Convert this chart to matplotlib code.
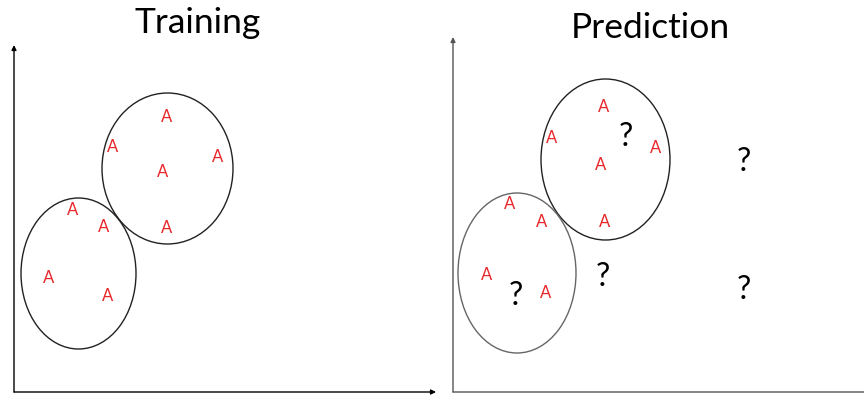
import matplotlib
matplotlib.use("Agg")
import matplotlib.pyplot as plt
from matplotlib.patches import Ellipse

# Diagram coordinates (pixel-like units of the reference image)
titles = ["Training", "Prediction"]
title_x = [198, 650]
title_y = [23, 28]

# Training panel points ("A")
train_ax = [167, 113, 218, 163, 167, 73, 104, 49, 108]
train_ay = [117, 147, 157, 172, 228, 210, 227, 278, 296]
train_ellipses = [(167.5, 168.5, 131, 151), (78.5, 273.5, 115, 151)]

# Prediction panel points ("A") and unknowns ("?")
pred_ax = [604, 552, 656, 601, 605, 510, 542, 487, 546]
pred_ay = [107, 138, 148, 165, 222, 204, 222, 275, 293]
pred_qx = [626, 744, 603, 744, 516]
pred_qy = [137, 162, 277, 290, 296]
pred_ellipses = [(605.5, 159.5, 129, 161), (517, 273, 118, 160)]

fig = plt.figure(figsize=(8.64, 3.98), dpi=100)
ax = fig.add_axes([0, 0, 1, 1])
ax.set_xlim(0, 864)
ax.set_ylim(398, 0)
ax.axis("off")

font = ["Lato", "DejaVu Sans"]
red = "#e8262a"

# Axes arrows
def arrow(x0, y0, x1, y1, color):
    ax.annotate("", xy=(x1, y1), xytext=(x0, y0), annotation_clip=False,
                arrowprops=dict(arrowstyle="-|>", lw=1.0, color=color,
                                mutation_scale=7, shrinkA=0, shrinkB=0))

arrow(14, 392, 14, 45, "black")
arrow(14, 392, 436, 392, "black")
arrow(453, 392, 453, 37, "#555555")
arrow(453, 392, 875, 392, "#555555")

for t, x, y in zip(titles, title_x, title_y):
    ax.text(x, y, t, fontsize=25.5, family=font, ha="center", va="center", color="black")

for (cx, cy, w, h) in train_ellipses:
    ax.add_patch(Ellipse((cx, cy), w, h, fill=False, edgecolor="#222222", lw=1.0))
ax.add_patch(Ellipse(pred_ellipses[0][:2], pred_ellipses[0][2], pred_ellipses[0][3],
                     fill=False, edgecolor="#222222", lw=1.0))
ax.add_patch(Ellipse(pred_ellipses[1][:2], pred_ellipses[1][2], pred_ellipses[1][3],
                     fill=False, edgecolor="#666666", lw=1.0))

for x, y in zip(train_ax, train_ay):
    ax.text(x, y, "A", fontsize=12, family=font, ha="center", va="center", color=red)
for x, y in zip(pred_ax, pred_ay):
    ax.text(x, y, "A", fontsize=12, family=font, ha="center", va="center", color=red)
for x, y in zip(pred_qx, pred_qy):
    ax.text(x, y, "?", fontsize=23, family=font, ha="center", va="center", color="black")

fig.savefig("out.png", dpi=100)
